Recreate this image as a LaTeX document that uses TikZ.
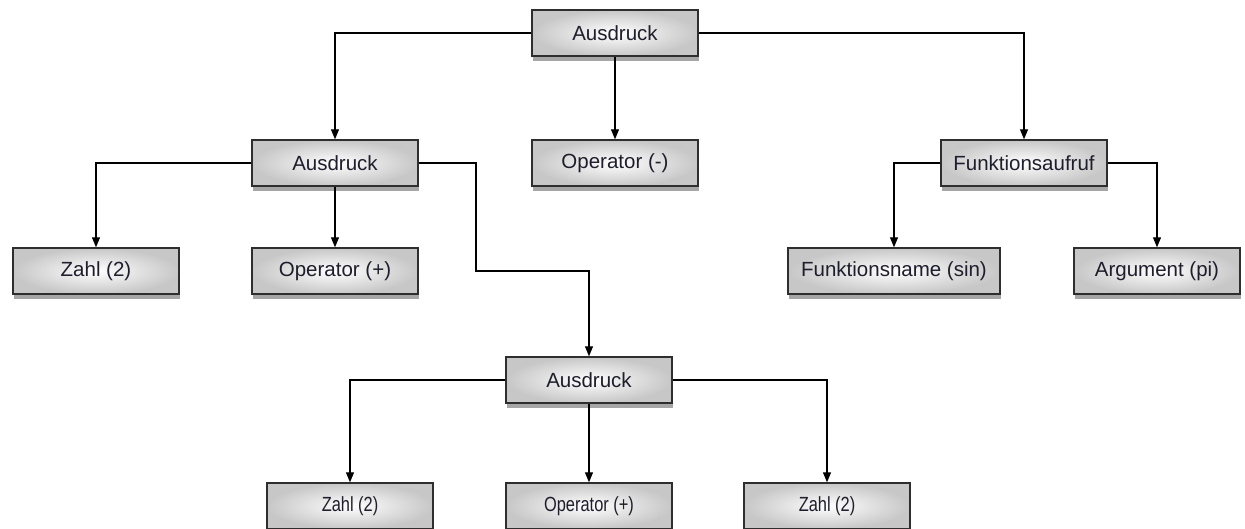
\documentclass[tikz,border=0pt]{standalone}
\usepackage{fontspec}
\setmainfont{Liberation Sans}
\usetikzlibrary{arrows.meta,shadows}
\definecolor{edgecol}{HTML}{2E2E2E}
\definecolor{txtcol}{HTML}{1E1E2C}
\tikzset{
  box/.style={draw=edgecol, line width=1.4pt, shading=radial, inner color=white, outer color=black!22,
    minimum width=166pt, minimum height=46pt, inner sep=0pt,
    font=\fontsize{20.5}{24}\selectfont, text=txtcol,
    drop shadow={shadow xshift=1pt, shadow yshift=-5pt, opacity=0.35, fill=black}},
  conn/.style={line width=1.1pt, draw=black, -{Triangle[length=10pt,width=8pt]}},
}
\newcommand{\narrow}[1]{\scalebox{0.8}[1]{#1}}
\begin{document}
\begin{tikzpicture}[x=1pt,y=-1pt]
\useasboundingbox (0,0) rectangle (1245,528);
\clip (0,0) rectangle (1245,528);
\node[box] (t) at (615,33) {Ausdruck};
\node[box] (a1) at (335,163) {Ausdruck};
\node[box] (om) at (615,163) {Operator (-)};
\node[box] (f) at (1024,163) {Funktionsaufruf};
\node[box] (z1) at (96,271) {Zahl (2)};
\node[box] (p1) at (335,271) {Operator (+)};
\node[box, minimum width=212pt] (fn) at (894,271) {Funktionsname (sin)};
\node[box] (ar) at (1157,271) {Argument (pi)};
\node[box] (a2) at (589,380) {Ausdruck};
\node[box] (z2) at (350,506) {\narrow{Zahl (2)}};
\node[box] (p2) at (589,506) {\narrow{Operator (+)}};
\node[box] (z3) at (827,506) {\narrow{Zahl (2)}};
\coordinate (c1) at (476,271);
\draw[conn] (t.west) -| (a1.north);
\draw[conn] (t.south) -- (om.north);
\draw[conn] (t.east) -| (f.north);
\draw[conn] (a1.west) -| (z1.north);
\draw[conn] (a1.south) -- (p1.north);
\draw[conn] (a1.east) -| (c1) -| (a2.north);
\draw[conn] (f.west) -| (fn.north);
\draw[conn] (f.east) -| (ar.north);
\draw[conn] (a2.west) -| (z2.north);
\draw[conn] (a2.south) -- (p2.north);
\draw[conn] (a2.east) -| (z3.north);
\end{tikzpicture}
\end{document}
